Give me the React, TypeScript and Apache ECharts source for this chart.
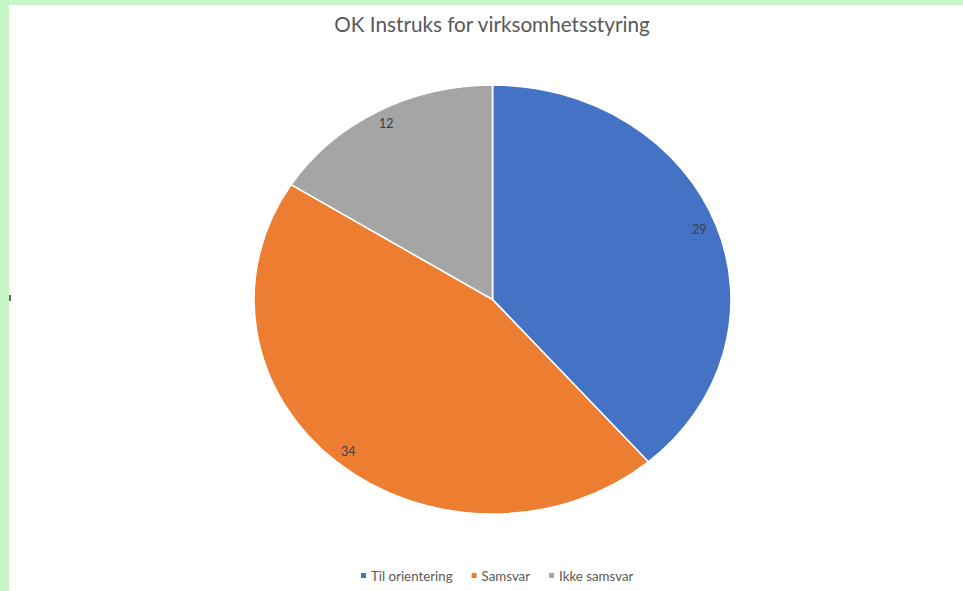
import React, { useEffect, useRef } from "react";
import * as echarts from "echarts";

const categories = ["Til orientering", "Samsvar", "Ikke samsvar"];
const values = [29, 34, 12];
const colors = ["#4472C4", "#ED7D31", "#A5A5A5"];
const titleText = "OK Instruks for virksomhetsstyring";

export default function App() {
  const ref = useRef<HTMLDivElement>(null);
  useEffect(() => {
    document.body.style.margin = "0";
    const chart = echarts.init(ref.current!, null, { renderer: "svg" });
    const cx = 492.5;
    const cy = 299.5;
    const rx = 238.5;
    const ry = 214.5;
    const total = values.reduce((a, b) => a + b, 0);
    const starts: number[] = [];
    let acc = 0;
    values.forEach((v) => {
      starts.push(acc);
      acc += v;
    });

    const series = categories.map((name, i) => ({
      type: "custom",
      name,
      coordinateSystem: "none",
      data: [values[i]],
      itemStyle: { color: colors[i] },
      renderItem: (params: any, api: any) => {
        const v = api.value(0);
        const a0 = (starts[i] / total) * Math.PI * 2;
        const a1 = ((starts[i] + v) / total) * Math.PI * 2;
        const mid = (a0 + a1) / 2;
        return {
          type: "group",
          children: [
            {
              type: "sector",
              x: cx,
              y: cy,
              scaleX: rx / ry,
              shape: {
                cx: 0,
                cy: 0,
                r0: 0,
                r: ry,
                startAngle: a0 - Math.PI / 2,
                endAngle: a1 - Math.PI / 2,
                clockwise: true,
              },
              style: { fill: colors[i], stroke: "#ffffff", lineWidth: 1.5 },
            },
            {
              type: "text",
              x: cx + rx * 0.925 * Math.sin(mid),
              y: cy - ry * 0.935 * Math.cos(mid),
              style: {
                text: String(v),
                fill: "#404040",
                font: "12.5px Lato",
                align: "center",
                verticalAlign: "middle",
              },
            },
          ],
        };
      },
    }));

    chart.setOption({
      animation: false,
      backgroundColor: "#ffffff",
      title: {
        text: titleText,
        left: 487,
        textAlign: "center",
        top: 8,
        textStyle: {
          fontFamily: "Lato",
          fontSize: 20.7,
          fontWeight: "normal",
          color: "#595959",
        },
      },
      legend: {
        data: categories,
        left: 356,
        top: 564,
        icon: "rect",
        itemWidth: 5,
        itemHeight: 5,
        itemGap: 19,
        textStyle: { fontFamily: "Lato", fontSize: 13.3, color: "#595959" },
      },
      graphic: [
        { type: "rect", left: 0, top: 0, shape: { width: 963, height: 5 }, style: { fill: "#C6F5C6" } },
        { type: "rect", left: 0, top: 0, shape: { width: 9, height: 591 }, style: { fill: "#C6F5C6" } },
        { type: "rect", left: 9, top: 295, shape: { width: 2, height: 6 }, style: { fill: "#666666" } },
      ],
      series,
    });
    return () => chart.dispose();
  }, []);
  return <div ref={ref} style={{ width: 963, height: 591 }} />;
}
